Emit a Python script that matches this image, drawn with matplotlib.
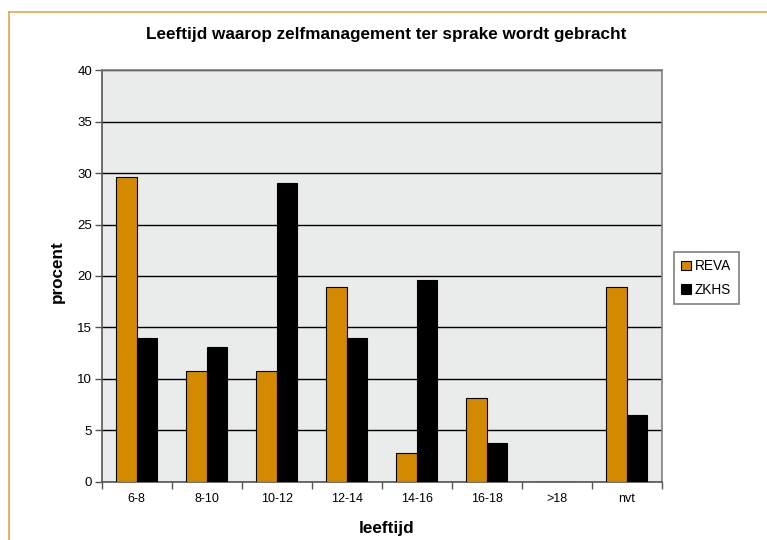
import matplotlib.pyplot as plt
import numpy as np
from matplotlib.lines import Line2D
from matplotlib.patches import Patch

# --- Data ---
age_groups = ['6-8', '8-10', '10-12', '12-14', '14-16', '16-18', '>18', 'nvt']
reva = [29.6, 10.8, 10.8, 18.9, 2.8, 8.1, 0, 18.9]
zkhs = [14.0, 13.1, 29.0, 14.0, 19.6, 3.8, 0, 6.5]

c_reva = '#D38A00'
c_zkhs = '#000000'

plt.rcParams['font.family'] = ['Liberation Sans', 'DejaVu Sans']

W, H = 767, 540
fig = plt.figure(figsize=(W / 100, H / 100), dpi=100)
ax = fig.add_axes([101.7 / W, 1 - 481.7 / H, 560 / W, 411.4 / H])

x = np.arange(len(age_groups))
bw = 0.293
ax.bar(x - bw / 2, reva, width=bw, color=c_reva, edgecolor='black', linewidth=0.8, zorder=3)
ax.bar(x + bw / 2, zkhs, width=bw, color=c_zkhs, edgecolor='black', linewidth=0.8, zorder=3)

ax.set_xlim(-0.5, len(age_groups) - 0.5)
ax.set_ylim(0, 40)
ax.set_yticks(np.arange(0, 41, 5))
ax.set_facecolor('#EAEBEB')
ax.grid(axis='y', color='black', linewidth=1, zorder=1)
ax.set_axisbelow(True)

# category ticks at the boundaries, labels in the middle
ax.set_xticks(np.arange(-0.5, len(age_groups)), minor=False)
ax.set_xticklabels([])
ax.set_xticks(x, minor=True)
ax.set_xticklabels(age_groups, minor=True, fontsize=9)
ax.tick_params(axis='x', which='minor', length=0, pad=8)
ax.tick_params(axis='x', which='major', length=5, width=1, color='#555555')
ax.tick_params(axis='y', length=5, width=1, color='#555555', labelsize=9.5, pad=2)

for s in ax.spines.values():
    s.set_color('#808080')
    s.set_linewidth(1.2)
ax.spines['left'].set_color('#555555')
ax.spines['bottom'].set_color('#555555')

fig.text(0.503, 1 - 34 / H, 'Leeftijd waarop zelfmanagement ter sprake wordt gebracht',
         ha='center', va='center', fontsize=12.3, fontweight='bold')
fig.text(57 / W, 1 - 272 / H, 'procent', rotation=90, ha='center', va='center',
         fontsize=12.3, fontweight='bold')
fig.text(387 / W, 1 - 528 / H, 'leeftijd', ha='center', va='center',
         fontsize=12.3, fontweight='bold')

handles = [Patch(facecolor=c_reva, edgecolor='black', linewidth=0.8, label='REVA'),
           Patch(facecolor=c_zkhs, edgecolor='black', linewidth=0.8, label='ZKHS')]
leg = fig.legend(handles=handles, loc='upper left', bbox_to_anchor=(674 / W, 1 - 251.7 / H),
                 borderaxespad=0, fontsize=9.8, fancybox=False, framealpha=1,
                 handlelength=0.7, handleheight=0.7, handletextpad=0.3,
                 borderpad=0.55, labelspacing=0.7)
leg.get_frame().set_edgecolor('#808080')
leg.get_frame().set_linewidth(1.2)

# outer chart border (orange-ish)
fig.add_artist(Line2D([8.5 / W, 8.5 / W], [0, 1 - 11.5 / H], color='#E2A84A', linewidth=1.2))
fig.add_artist(Line2D([8.5 / W, 1], [1 - 11.5 / H, 1 - 11.5 / H], color='#E2A84A', linewidth=1.2))

fig.savefig('out.png', dpi=100)
